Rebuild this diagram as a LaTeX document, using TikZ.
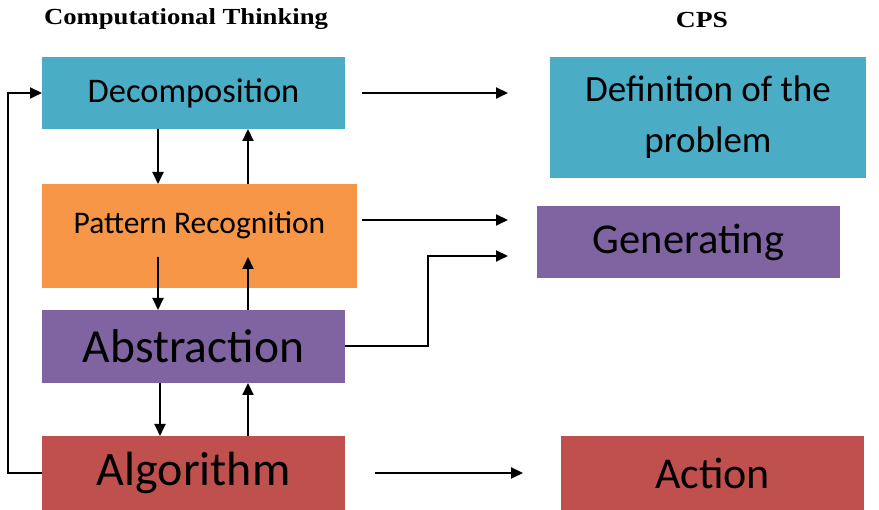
\documentclass[tikz,border=0pt]{standalone}
\usepackage{fontspec}
\setmainfont{Carlito}
\newfontfamily\headfont{Liberation Serif}
\usetikzlibrary{arrows.meta,calc}
\definecolor{cblue}{HTML}{4BACC6}
\definecolor{corange}{HTML}{F79646}
\definecolor{cpurple}{HTML}{8064A2}
\definecolor{cred}{HTML}{C0504D}
\begin{document}
\begin{tikzpicture}[x=1pt,y=1pt,
  box/.style={draw=none,inner sep=0pt,outer sep=0pt,align=center},
  arr/.style={line width=2pt,-{Triangle[length=12pt,width=11pt]}},
  head/.style={font=\headfont\bfseries\fontsize{23}{26}\selectfont}]
\useasboundingbox[fill=white] (0,0) rectangle (879,510);
% headings
\node[head] (hct) at (186,491) {\scalebox{1.16}[1]{Computational Thinking}};
\node[head] (hcps) at (702,490) {\scalebox{1.2}[1]{CPS}};
% left boxes
\node[box,fill=cblue,minimum width=303pt,minimum height=72pt,font=\fontsize{34.5}{38}\selectfont] (dec) at (193.5,417) {Decomposition};
\node[box,fill=corange,minimum width=315pt,minimum height=104pt,font=\fontsize{31.5}{34}\selectfont] (pat) at (199.5,274) {\raisebox{26pt}{Pattern Recognition}};
\node[box,fill=cpurple,minimum width=303pt,minimum height=73pt,font=\fontsize{47.5}{52}\selectfont] (abs) at (193.5,163.5) {\raisebox{-2pt}{Abstraction}};
\node[box,fill=cred,minimum width=303pt,minimum height=74pt,font=\fontsize{48}{52}\selectfont] (alg) at (193.5,37) {\raisebox{-4pt}{Algorithm}};
% right boxes
\node[box,fill=cblue,minimum width=316pt,minimum height=121pt,font=\fontsize{37}{51}\selectfont] (def) at (708,392.5) {Definition of the\\problem};
\node[box,fill=cpurple,minimum width=303pt,minimum height=72pt,font=\fontsize{42.5}{46}\selectfont] (gen) at (688.5,268) {Generating};
\node[box,fill=cred,minimum width=303pt,minimum height=74pt,font=\fontsize{44}{48}\selectfont] (act) at (712.5,37) {Action};
% vertical arrows
\draw[arr] (158,0 |- dec.south) -- (158,0 |- pat.north);
\draw[arr] (248,0 |- pat.north) -- (248,0 |- dec.south);
\draw[arr] (158,253) -- (158,0 |- abs.north);
\draw[arr] (248,0 |- abs.north) -- (248,253);
\draw[arr] (160,0 |- abs.south) -- (160,0 |- alg.north);
\draw[arr] (248,0 |- alg.north) -- (248,0 |- abs.south);
% horizontal arrows
\draw[arr,shorten <=17pt,shorten >=42pt] (dec.east) -- (dec.east -| def.west);
\coordinate (p1) at (362,290);
\coordinate (g1) at (508,290);
\draw[arr] (p1) -- (g1);
\coordinate (g2) at (508,254);
\draw[arr] (abs.east) -| (428,254) -- (g2);
\draw[arr,shorten <=30pt,shorten >=38pt] (alg.east) -- (act.west);
% feedback loop
\draw[arr] (alg.west) -- (8,0 |- alg.west) -- (8,0 |- dec.west) -- (dec.west);
\end{tikzpicture}
\end{document}
